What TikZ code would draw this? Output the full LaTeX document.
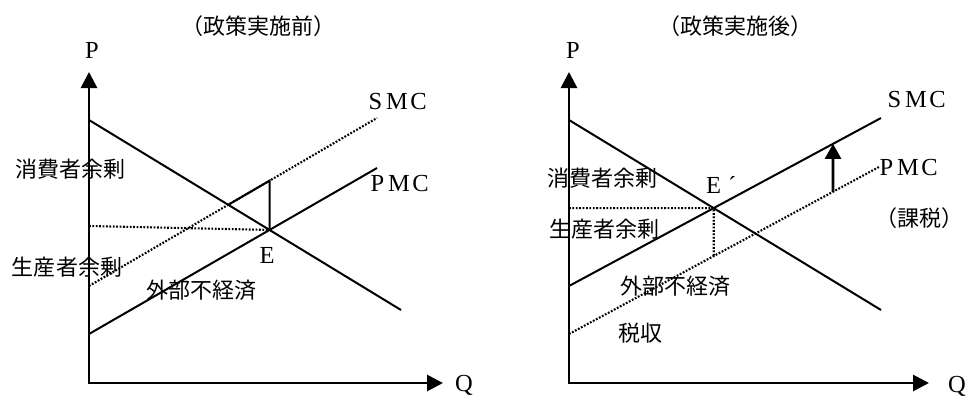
\documentclass[tikz,border=0pt]{standalone}
\usepackage{fontspec}
\setmainfont{Liberation Serif}
\newfontfamily\jpfont{Noto Sans CJK JP}
\usetikzlibrary{arrows.meta,calc}
\newcommand{\fwl}[1]{\makebox[21.5pt]{#1}}
\begin{document}
\begin{tikzpicture}[x=1pt,y=-1pt,
  axisline/.style={line width=2.8pt},
  curve/.style={line width=2pt},
  dotline/.style={line width=2.1pt, dash pattern=on 1.8pt off 1.6pt},
  jlabel/.style={font=\jpfont\fontsize{22}{24}\selectfont, inner sep=0pt},
  llabel/.style={font=\fontsize{24.5}{26}\selectfont, inner sep=0pt},
  axtip/.style={{Triangle[width=16pt,length=16pt]}-{Triangle[width=16pt,length=16pt]}}
]
\useasboundingbox (0,0) rectangle (968,396);

% ---------- left panel ----------
\coordinate (O1) at (89,383);
\coordinate (Ptop1) at (89,72);
\coordinate (Qend1) at (443,383);
\coordinate (D1a) at (89,120);  \coordinate (D1b) at (401,310);
\coordinate (M1a) at (89,334);  \coordinate (M1b) at (377,168);
\coordinate (S1a) at (89,286);  \coordinate (S1b) at (377,118);
\coordinate (E1) at (intersection of D1a--D1b and M1a--M1b);
\coordinate (A1) at (intersection of D1a--D1b and S1a--S1b);
\coordinate (E1up) at ($(E1)+(0,-100)$);
\coordinate (B1) at (intersection of E1--E1up and S1a--S1b);
\coordinate (H1) at (89,226);

\draw[axisline,axtip] (Ptop1) -- (O1) -- (Qend1);
\draw[curve] (D1a) -- (D1b);
\draw[curve] (M1a) -- (M1b);
\draw[dotline] (S1a) -- (S1b);
\draw[dotline] (H1) -- (E1);
\draw[curve] (A1) -- (B1) -- (E1);

\node[jlabel] (t1) at (258,26) {（政策実施前）};
\node[llabel] (p1) at (92,50) {P};
\node[llabel] (q1) at (464,385) {Q};
\node[llabel] (smc1) at (397,102) {\fwl{S}\fwl{M}\fwl{C}};
\node[llabel] (pmc1) at (399,184) {\fwl{P}\fwl{M}\fwl{C}};
\node[llabel] (e1) at (267,255) {E};
\node[jlabel] (cs1) at (70,169) {消費者余剰};
\node[jlabel] (ps1) at (67,267) {生産者余剰};
\node[jlabel] (ex1) at (201,290) {外部不経済};

% ---------- right panel ----------
\coordinate (O2) at (569,383);
\coordinate (Ptop2) at (569,72);
\coordinate (Qend2) at (929,383);
\coordinate (D2a) at (569,120);  \coordinate (D2b) at (881,310);
\coordinate (S2a) at (569,286);  \coordinate (S2b) at (881,118);
\coordinate (M2a) at (569,334);  \coordinate (M2b) at (879,167);
\coordinate (E2) at (intersection of D2a--D2b and S2a--S2b);
\coordinate (E2low) at ($(E2)+(0,100)$);
\coordinate (F2) at (intersection of E2--E2low and M2a--M2b);
\coordinate (G2) at ($(M2a)!0.8516!(M2b)$);
\coordinate (G2up) at ($(G2)+(0,-100)$);
\coordinate (K2) at (intersection of G2--G2up and S2a--S2b);

\draw[axisline,axtip] (Ptop2) -- (O2) -- (Qend2);
\draw[curve] (D2a) -- (D2b);
\draw[curve] (S2a) -- (S2b);
\draw[dotline] (M2a) -- (M2b);
\draw[dotline] (O2 |- E2) -- (E2) -- (F2);
\draw[line width=2.6pt, -{Triangle[width=16pt,length=15pt]}] (G2) -- (K2);

\node[jlabel] (t2) at (735,26) {（政策実施後）};
\node[llabel] (p2) at (573,50) {P};
\node[llabel] (q2) at (957,386) {Q};
\node[llabel] (smc2) at (916,100) {\fwl{S}\fwl{M}\fwl{C}};
\node[llabel] (pmc2) at (908,168) {\fwl{P}\fwl{M}\fwl{C}};
\node[llabel, anchor=base west] (e2) at (706,193) {E\hspace{7pt}´};
\node[jlabel] (tax2) at (919,218) {（課税）};
\node[jlabel] (cs2) at (602,178) {消費者余剰};
\node[jlabel] (ps2) at (604,229) {生産者余剰};
\node[jlabel] (ex2) at (675,286) {外部不経済};
\node[jlabel] (rev2) at (640,333) {税収};
\end{tikzpicture}
\end{document}
